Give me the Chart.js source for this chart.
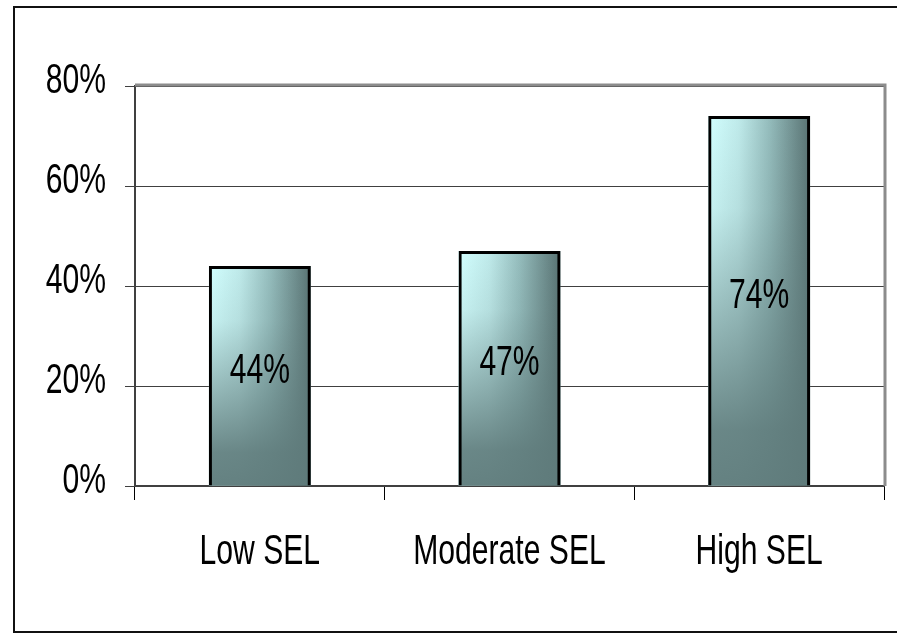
<!DOCTYPE html>
<html lang="en">
<head>
    <meta charset="UTF-8">
    <script src="https://cdn.jsdelivr.net/npm/chart.js"></script>
    <title>SEL</title>
    <style>
        body { margin: 0; background: #fff; }
        #wrap { position: relative; width: 897px; height: 635px; }
    </style>
</head>
<body>
<div id="wrap"><canvas id="myChart" width="897" height="635"></canvas></div>
<script>
    const categories = ['Low SEL', 'Moderate SEL', 'High SEL'];
    const values = [44, 47, 74];
    const yTicks = [0, 20, 40, 60, 80];

    const FONT = '43px "Liberation Sans", Arial, sans-serif';
    const SQUEEZE = 0.70;   // no narrow face installed, so squeeze Arial-ish text

    function narrowText(ctx, text, x, y, align) {
        ctx.save();
        ctx.font = FONT;
        ctx.fillStyle = '#000';
        ctx.textBaseline = 'middle';
        ctx.textAlign = align;
        ctx.translate(x, y);
        ctx.scale(SQUEEZE, 1);
        ctx.fillText(text, 0, 0);
        ctx.restore();
    }

    const barFill = {
        id: 'barFill',
        beforeDatasetsDraw(chart) {
            const ctx = chart.ctx;
            chart.getDatasetMeta(0).data.forEach(bar => {
                const left = bar.x - bar.width / 2, right = bar.x + bar.width / 2;
                const top = bar.y, bottom = bar.base;
                const h = ctx.createLinearGradient(left, 0, right, 0);
                h.addColorStop(0, '#d2ffff');
                h.addColorStop(0.3, '#bfeaea');
                h.addColorStop(0.6, '#94bcbc');
                h.addColorStop(1, '#587272');
                ctx.save();
                ctx.fillStyle = h;
                ctx.fillRect(left, top, right - left, bottom - top);
                const v = ctx.createLinearGradient(0, top, 0, bottom);
                v.addColorStop(0, 'rgba(95,123,123,0)');
                v.addColorStop(0.25, 'rgba(95,123,123,0.1)');
                v.addColorStop(0.85, 'rgba(95,123,123,0.9)');
                v.addColorStop(1, 'rgba(95,123,123,0.95)');
                ctx.fillStyle = v;
                ctx.fillRect(left, top, right - left, bottom - top);
                ctx.restore();
            });
        },
        afterDatasetsDraw(chart) {
            const ctx = chart.ctx;
            chart.getDatasetMeta(0).data.forEach((bar, i) => {
                narrowText(ctx, values[i] + '%', bar.x, (bar.y + bar.base) / 2 - 5, 'center');
            });
        },
        afterDraw(chart) {
            const ctx = chart.ctx, a = chart.chartArea;
            const xs = chart.scales.x, ys = chart.scales.y;
            // axis labels
            yTicks.forEach(v => narrowText(ctx, v + '%', 106, ys.getPixelForValue(v) - 5, 'right'));
            categories.forEach((c, i) => narrowText(ctx, c, xs.getPixelForValue(i), 552, 'center'));
            ctx.save();
            // gray plot border top + right
            ctx.strokeStyle = '#8c8c8c';
            ctx.lineWidth = 3;
            ctx.beginPath();
            ctx.moveTo(a.left, a.top - 1);
            ctx.lineTo(a.right + 1, a.top - 1);
            ctx.lineTo(a.right + 1, a.bottom);
            ctx.stroke();
            // outer frame
            ctx.strokeStyle = '#111';
            ctx.lineWidth = 2;
            ctx.beginPath();
            ctx.moveTo(900, 7);
            ctx.lineTo(14, 7);
            ctx.lineTo(14, 632);
            ctx.lineTo(900, 632);
            ctx.stroke();
            ctx.restore();
        }
    };

    new Chart(document.getElementById('myChart'), {
        type: 'bar',
        data: {
            labels: categories,
            datasets: [{
                data: values,
                backgroundColor: 'rgba(0,0,0,0)',
                borderColor: '#000',
                borderWidth: 3,
                categoryPercentage: 1,
                barPercentage: 0.408
            }]
        },
        options: {
            responsive: false,
            animation: false,
            layout: { padding: { left: 0, right: 13, top: 86, bottom: 0 } },
            plugins: { legend: { display: false }, tooltip: { enabled: false } },
            scales: {
                x: {
                    afterFit(s) { s.height = 149; },
                    grid: { offset: true, drawOnChartArea: false, color: '#000', tickLength: 14, lineWidth: 1 },
                    border: { color: '#404040', width: 2 },
                    ticks: { display: false }
                },
                y: {
                    min: 0, max: 80,
                    afterFit(s) { s.width = 135; },
                    afterBuildTicks(s) { s.ticks = yTicks.map(v => ({ value: v })); },
                    grid: { color: '#404040', tickLength: 10, lineWidth: 1 },
                    border: { color: '#404040', width: 2 },
                    ticks: { display: false }
                }
            }
        },
        plugins: [barFill]
    });
</script>
</body>
</html>
